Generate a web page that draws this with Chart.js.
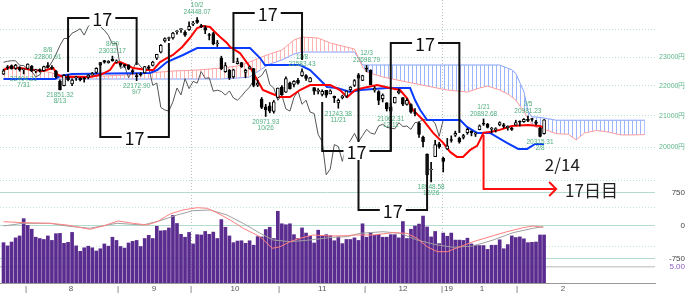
<!DOCTYPE html>
<html>
<head>
<meta charset="utf-8">
<script src="https://cdn.jsdelivr.net/npm/chart.js@4.4.1/dist/chart.umd.min.js"></script>
<style>
  html, body { margin: 0; padding: 0; background: #fff; }
</style>
</head>
<body>
<canvas id="chart" width="688" height="293"></canvas>
<script>
// 日付（営業日）
const dates = ['7/24','7/25','7/26','7/27','7/30','7/31',
  '8/1','8/2','8/3','8/6','8/7','8/8','8/9','8/10','8/13','8/14','8/15','8/16','8/17','8/20','8/21','8/22','8/23','8/24','8/27','8/28','8/29','8/30','8/31',
  '9/3','9/4','9/5','9/6','9/7','9/10','9/11','9/12','9/13','9/14','9/18','9/19','9/20','9/21','9/25','9/26','9/27','9/28',
  '10/1','10/2','10/3','10/4','10/5','10/9','10/10','10/11','10/12','10/15','10/16','10/17','10/18','10/19','10/22','10/23','10/24','10/25','10/26','10/29','10/30','10/31',
  '11/1','11/2','11/5','11/6','11/7','11/8','11/9','11/12','11/13','11/14','11/15','11/16','11/19','11/20','11/21','11/22','11/26','11/27','11/28','11/29','11/30',
  '12/3','12/4','12/5','12/6','12/7','12/10','12/11','12/12','12/13','12/14','12/17','12/18','12/19','12/20','12/21','12/25','12/26','12/27','12/28',
  '1/4','1/7','1/8','1/9','1/10','1/11','1/15','1/16','1/17','1/18','1/21','1/22','1/23','1/24','1/25','1/28','1/29','1/30','1/31',
  '2/1','2/4','2/5','2/6','2/7','2/8','2/12'];

// 四本値
const openP = [22400,22620,22700,22600,22630,22550,
  22600,22680,22510,22560,22520,22700,22620,22500,22160,22000,22290,22060,22270,22250,22250,22290,22380,22460,22720,22870,22800,22920,22830,
  22780,22710,22720,22500,22350,22400,22440,22650,22700,22960,23170,23580,23670,23690,23920,24000,23900,24000,
  24200,24360,24140,24080,23800,23850,23480,22960,22480,22530,22300,22760,22800,22460,22600,22590,22020,21550,21290,21320,21140,21600,
  21950,21780,22100,22040,22180,22340,22350,22130,21930,21800,21700,21840,21720,21640,21420,21590,21640,21860,22010,22370,22180,
  22580,22530,21850,21800,21560,21420,21280,21420,21750,21600,21370,21360,21100,20760,20310,19780,19300,19700,20100,
  19655,19940,20220,20370,20270,20300,20450,20500,20400,20550,20730,20720,20560,20550,20700,20700,20600,20600,20690,
  20800,20800,20880,20900,20800,20600,20420];
const highP = [22570,22700,22720,22740,22660,22580,
  22760,22700,22570,22580,22680,22801,22700,22530,22200,22380,22380,22230,22320,22280,22290,22380,22460,22620,22810,22880,22870,23032,22900,
  22790,22740,22720,22560,22430,22450,22670,22700,22850,23100,23450,23700,23720,23900,23960,24040,23960,24290,
  24310,24448,24200,24140,23860,23900,23600,23030,22800,22560,22570,22960,22810,22570,22680,22600,22190,21600,21370,21430,21500,21920,
  22000,22300,22120,22170,22250,22583,22380,22290,21930,21900,21860,21840,21860,21650,21550,21680,21820,21970,22210,22420,22360,
  22699,22550,21970,21830,21720,21430,21300,21610,21880,21600,21560,21390,21230,20800,20340,19790,19530,20210,20150,
  19690,20270,20350,20500,20310,20400,20600,20510,20460,20700,20893,20750,20620,20610,20800,20750,20670,20620,20850,
  20830,20900,20981,20910,20850,20620,20870];
const lowP = [22380,22560,22570,22560,22500,22404,
  22570,22480,22440,22470,22500,22610,22560,22260,21851,21990,22160,22000,22180,22160,22120,22230,22360,22420,22690,22780,22780,22850,22790,
  22660,22630,22550,22400,22173,22330,22430,22560,22680,22910,23150,23540,23590,23650,23830,23900,23750,23970,
  24150,24230,24080,23850,23620,23440,23380,22550,22460,22210,22260,22750,22630,22270,22570,21960,21970,21230,20972,21090,21080,21580,
  21680,21770,21880,21960,22050,22320,22180,22130,21700,21720,21650,21600,21720,21430,21243,21550,21600,21800,21970,22240,22170,
  22480,22030,21780,21360,21450,21150,21062,21410,21720,21330,21340,21080,20990,20300,20000,19117,18949,19700,19960,
  19241,19920,20150,20330,20120,20250,20400,20350,20330,20540,20680,20600,20440,20470,20670,20600,20530,20520,20690,
  20670,20780,20800,20820,20700,20315,20400];
const closeP = [22510,22614,22586,22712,22544,22553,
  22746,22512,22525,22507,22663,22644,22598,22298,21857,22356,22204,22192,22270,22199,22219,22362,22410,22601,22799,22813,22848,22869,22865,
  22707,22696,22580,22487,22307,22373,22664,22604,22821,23094,23420,23672,23674,23869,23940,24033,23796,24120,
  24245,24270,24110,23975,23783,23469,23506,22590,22694,22271,22549,22841,22658,22532,22614,22010,22091,21268,21184,21149,21457,21920,
  21687,22243,21898,22147,22085,22486,22250,22269,21810,21846,21803,21680,21821,21583,21507,21646,21812,21952,22177,22262,22351,
  22574,22036,21919,21501,21678,21219,21148,21602,21816,21374,21506,21115,21068,20392,20166,19155,19327,20077,20015,
  19561,20038,20204,20427,20163,20359,20555,20443,20402,20666,20719,20622,20593,20574,20773,20649,20664,20556,20773,
  20788,20883,20844,20874,20751,20333,20864];

// 出来高（億株）
const volume = [12.6,11.6,12.8,14.1,14.7,20.1,18.0,16.8,14.3,13.9,13.6,14.7,13.3,15.4,15.5,12.4,12.7,15.8,11.6,9.9,
  11.0,11.5,11.0,10.0,10.7,12.2,11.5,14.3,13.3,11.4,10.9,12.5,13.0,13.3,11.4,13.9,14.9,13.9,17.7,16.3,
  16.4,17.2,21.1,18.6,15.2,14.3,15.8,12.2,15.1,15.0,16.1,15.2,15.9,13.9,19.8,17.4,14.7,12.6,13.1,13.2,
  12.4,13.2,11.8,14.5,14.4,16.7,17.4,13.9,22.4,18.5,18.2,18.5,15.1,13.9,17.2,15.6,14.6,12.5,16.5,14.9,
  15.1,14.8,13.2,14.4,12.3,13.6,13.6,14.1,13.3,18.5,14.3,15.7,14.9,15.2,14.3,14.3,15.1,15.1,14.1,19.2,
  13.9,16.8,17.8,18.4,20.9,17.5,14.4,16.1,12.3,15.6,14.6,15.6,13.4,13.4,13.3,14.0,12.2,11.8,11.7,11.7,
  10.5,11.8,11.8,13.5,10.7,12.0,14.7,14.2,14.4,13.8,12.6,12.7,12.8,15.0,15.0];

// 一目均衡表（図から読んだ頂点: [日の位置, 値]）
const tenkan = [[0,22540],[1.6,22646],[4.1,22610],[7.3,22540],[9.8,22505],[12.3,22610],[13.5,22366],[14.8,22297],[21.4,22297],[23.9,22366],
  [26.4,22540],[27.6,22787],[28.9,22822],[30.6,22716],[32.1,22610],[35.6,22540],[37.1,22540],[38.8,22822],[40.5,22964],[42,23072],
  [44.3,23360],[46.2,23689],[48,24060],[49.5,24133],[51.2,24097],[52.4,23911],[53.7,23726],[55.4,23506],[56.2,23360],[58.6,23143],
  [61.1,22646],[62.9,22193],[64.3,21851],[66.1,21750],[68.6,21615],[71,21615],[73.5,21851],[76,22021],[81,22021],[83.4,21851],
  [85.2,21615],[87.2,21851],[89.1,21919],[92.6,22021],[95.8,21919],[98.3,21851],[100,21582],[101.5,21184],[104,20858],[106.5,20443],
  [109,20129],[110.7,19849],[112.4,19696],[113.9,19696],[115.7,19911],[117.4,20035],[119,20450],[121,20480],[123,20540],[126,20665],
  [130,20697],[133,20665],[134,20600]];
const kijun = [[0,22228],[12.8,22228],[14,22331],[17,22401],[36.3,22436],[38.1,22540],[40.5,22822],[44.5,23072],[48,23324],[61.1,23324],
  [63.6,22964],[64.8,22716],[73.5,22716],[76,22540],[78,22262],[80.2,21953],[82.7,21919],[85.9,21784],[88.4,21851],[95.1,21919],
  [100.8,21919],[102,21515],[103.3,21184],[105,20858],[113.2,20858],[114.9,20633],[117.4,20443],[120.6,20443],[124.8,20129],[127.6,19942],
  [129.8,19942],[131.8,20097],[134,20097]];
const spanA = [[0,22610],[5,22575],[10,22505],[14,22366],[20,22331],[25,22331],[30,22366],[36,22436],[42,22505],[48,22540],
  [54,22610],[58,22681],[61,22822],[64,23000],[66,23107],[69,23251],[72,23616],[74,23726],[78,23689],[81,23506],
  [84,23397],[87,23288],[88,22964],[89,22646],[90,22471],[94,22297],[100,22125],[105,21987],[110,21851],[115,21784],
  [118,21919],[120,21987],[123,21851],[125,21716],[126,21615],[127,21515],[128,21317],[129,21150],[130,20900],[131,20720],
  [132,20620],[134,20560],[137,20420],[140,20400],[142,20220],[144,20443],[147,20520],[150,20470],[153,20380],[156,20380],[159,20390]];
const spanB = [[0,22228],[5,22228],[10,22228],[14,22228],[20,22228],[25,22228],[30,22228],[36,22228],[42,22228],[48,22228],
  [54,22228],[58,22262],[61,22297],[64,22575],[66,22751],[69,22893],[72,23107],[74,23179],[78,23179],[81,23179],
  [84,23179],[87,23179],[88,22964],[89,22716],[90,22716],[94,22716],[100,22716],[105,22716],[110,22716],[115,22716],
  [118,22716],[120,22716],[123,22716],[125,22600],[126,22550],[127,22420],[128,22100],[129,21800],[130,21150],[131,20955],
  [132,20955],[134,20920],[137,20850],[140,20850],[142,20850],[144,20850],[147,20850],[150,20850],[153,20850],[156,20850],[159,20850]];
const chikouShift = 25;

// 下段のオシレーター
const oscRed = [[0,98],[4.8,75],[11.5,61],[15.7,23],[21.4,-75],[24.7,0],[28.4,114],[32.1,61],[35.6,23],[38.1,98],
  [41.3,273],[44.5,364],[48,416],[50.5,402],[52.9,302],[56.2,136],[59.4,-52],[63.6,-243],[66.6,-507],[68.6,-470],
  [71,-357],[73.5,-280],[76.7,-205],[81,-227],[85.2,-220],[86.7,-205],[91.6,-205],[96.6,-152],[100,-166],[102.5,-280],
  [105,-470],[107.5,-584],[110,-584],[113.2,-470],[116.4,-357],[120.6,-243],[124.8,-130],[128.8,-39],[131.3,0],[133.8,-30]];
const oscGray = [[0,0],[4.8,61],[11.5,61],[15.7,0],[21.4,-52],[28.1,61],[34.6,23],[38.8,120],[43,250],[47,348],
  [51.2,364],[55.4,250],[59.4,61],[63.6,-166],[66.8,-318],[71,-357],[76,-318],[81.7,-257],[85.2,-243],[88.4,-166],
  [94.1,-130],[98.3,-166],[102.5,-318],[107.5,-432],[111.5,-484],[116.4,-455],[121.4,-318],[126.3,-152],[131.3,-52],[133.8,-16]];

// 軸の目盛り
const xTickPos = [5.6, 16.7, 28.4, 37.3, 46.5, 57.4, 68.3, 79, 89.6, 99, 108.7, 110.3, 118.6, 127.3, 138.7];
const xTickText = ['|', '8', '|', '9', '|', '10', '|', '11', '|', '12', '|', '19', '1', '|', '2'];
const xGridAt = [46.5, 108.7];
const priceGrid = [19000, 20000, 21000, 22000, 23000, 24000];
const priceLabeled = [20000, 21000, 22000, 23000];
const oscGrid = [750, 430, 0, -470, -750];
const oscLabeled = [750, 0, -750];
const volTicks = [5];

// 高値・安値の注記
const markIdx = [5, 11, 14, 27, 33, 48, 65, 74, 83, 90, 96, 106, 119, 130, 133];
const markKind = ['L','H','L','H','L','H','L','H','L','H','L','L','H','H','L'];
const markText = ['22404.21','22800.91','21851.32','23032.17','22172.90','24448.07','20971.93','22583.43',
  '21243.38','22698.79','21062.31','18948.58','20892.68','20981.23','20315.31'];

// 17日のカッコ
const bracketFrom = [16, 24, 57, 79, 96, 88];
const bracketTo = [33, 41, 74, 96, 113, 105];
const bracketLevel = [24436, 20316, 24626, 19877, 23506, 18136];
const bracketEndFrom = [22471, 22822, 22787, 21448, 19877, 22366];
const bracketEndTo = [22716, 23506, 22893, 21415, 20443, 19753];

// 矢印とメモ
const arrowFrom = 119, arrowTo = 137, arrowTop = 20380, arrowLevel = 18737;
const noteText = ['2/14', '17日目'];
const noteIdx = [134.2, 139.2];
const notePrice = [19449, 18708];

Chart.defaults.font.family = '"Liberation Sans", Arial, sans-serif';

function hatch(color) {
    const c = document.createElement('canvas');
    c.width = 4; c.height = 4;
    const g = c.getContext('2d');
    g.fillStyle = color;
    g.fillRect(0, 0, 1, 4);
    return g.createPattern(c, 'repeat');
}

const pts = arr => arr.map(([x, y]) => ({x, y}));

const overlay = {
    id: 'overlay',
    afterDatasetsDraw(chart) {
        const {ctx, scales: {x, y, yo, yv}} = chart;
        ctx.save();

        // 高値・安値ラベル
        ctx.font = '6.5px "Liberation Sans", sans-serif';
        ctx.fillStyle = '#4fae7f';
        ctx.textAlign = 'center';
        ctx.textBaseline = 'middle';
        markIdx.forEach((i, k) => {
            const px = x.getPixelForValue(i);
            if (markKind[k] === 'H') {
                const py = y.getPixelForValue(highP[i]);
                ctx.fillText(markText[k], px, py - 5);
                ctx.fillText(dates[i], px, py - 12);
            } else {
                const py = y.getPixelForValue(lowP[i]);
                ctx.fillText(markText[k], px, py + 5.5);
                ctx.fillText(dates[i], px, py + 11.5);
            }
        });

        // カッコの線
        ctx.strokeStyle = '#111';
        ctx.lineWidth = 2;
        bracketFrom.forEach((f, k) => {
            const x1 = x.getPixelForValue(f), x2 = x.getPixelForValue(bracketTo[k]);
            const yl = y.getPixelForValue(bracketLevel[k]);
            ctx.beginPath();
            ctx.moveTo(x1, y.getPixelForValue(bracketEndFrom[k]));
            ctx.lineTo(x1, yl);
            ctx.lineTo(x2, yl);
            ctx.lineTo(x2, y.getPixelForValue(bracketEndTo[k]));
            ctx.stroke();
        });

        // カッコの数字（白抜き）
        ctx.font = '18px "Noto Sans CJK JP", "Liberation Sans", sans-serif';
        bracketFrom.forEach((f, k) => {
            const txt = String(bracketTo[k] - f);
            const cx = (x.getPixelForValue(f) + x.getPixelForValue(bracketTo[k])) / 2;
            const cy = y.getPixelForValue(bracketLevel[k]);
            const w = ctx.measureText(txt).width;
            ctx.fillStyle = '#fff';
            ctx.fillRect(cx - w / 2 - 3, cy - 9, w + 6, 18);
            ctx.fillStyle = '#111';
            ctx.fillText(txt, cx, cy + 1);
        });

        // 赤い矢印
        const ax = x.getPixelForValue(arrowFrom);
        const ay = y.getPixelForValue(arrowLevel);
        const tip = x.getPixelForValue(arrowTo);
        ctx.strokeStyle = '#ff1010';
        ctx.lineWidth = 2;
        ctx.beginPath();
        ctx.moveTo(ax, y.getPixelForValue(arrowTop));
        ctx.lineTo(ax, ay);
        ctx.lineTo(tip, ay);
        ctx.moveTo(tip - 7, ay - 7);
        ctx.lineTo(tip, ay);
        ctx.lineTo(tip - 7, ay + 7);
        ctx.stroke();

        // メモ
        ctx.font = '17px "Noto Sans CJK JP", sans-serif';
        ctx.fillStyle = '#222';
        ctx.textAlign = 'left';
        noteText.forEach((t, k) => {
            ctx.fillText(t, x.getPixelForValue(noteIdx[k]), y.getPixelForValue(notePrice[k]));
        });

        // 下段の目盛り（右寄せ）
        ctx.font = '8px "Liberation Sans", sans-serif';
        ctx.textAlign = 'right';
        ctx.fillStyle = '#444';
        oscLabeled.forEach(v => ctx.fillText(String(v), chart.width - 3, yo.getPixelForValue(v)));
        ctx.fillStyle = '#8a5cc8';
        volTicks.forEach(v => ctx.fillText(v.toFixed(2), chart.width - 3, yv.getPixelForValue(v)));

        ctx.restore();
    }
};

const isUp = closeP.map((c, i) => c >= openP[i]);

new Chart(document.getElementById('chart'), {
    type: 'bar',
    data: {
        datasets: [
            {
                type: 'line', label: '先行スパン1', data: pts(spanA), yAxisID: 'y',
                borderColor: '#ff9c9c', borderWidth: 1, pointRadius: 0, tension: 0,
                fill: {target: '+1', above: hatch('#ffb4b4'), below: hatch('#9db5ff')},
                order: 10
            },
            {
                type: 'line', label: '先行スパン2', data: pts(spanB), yAxisID: 'y',
                borderColor: '#7f9fff', borderWidth: 1, pointRadius: 0, tension: 0, fill: false,
                order: 11
            },
            {
                type: 'line', label: '遅行スパン',
                data: closeP.map((c, i) => ({x: i - chikouShift, y: c})).filter(p => p.x >= 0),
                yAxisID: 'y', borderColor: '#555', borderWidth: 1, pointRadius: 0, tension: 0, fill: false,
                order: 9
            },
            {
                type: 'line', label: '基準線', data: pts(kijun), yAxisID: 'y',
                borderColor: '#0a3cff', borderWidth: 2, pointRadius: 0, tension: 0, fill: false,
                order: 8
            },
            {
                type: 'line', label: '転換線', data: pts(tenkan), yAxisID: 'y',
                borderColor: '#ff0000', borderWidth: 2, pointRadius: 0, tension: 0, fill: false,
                order: 7
            },
            {
                label: 'ヒゲ', data: lowP.map((l, i) => ({x: i, y: [l, highP[i]]})), yAxisID: 'y',
                backgroundColor: '#000', barThickness: 1, grouped: false,
                order: 3
            },
            {
                label: '実体', data: openP.map((o, i) => ({x: i, y: [o, closeP[i]]})), yAxisID: 'y',
                backgroundColor: isUp.map(u => u ? '#fff' : '#000'),
                borderColor: '#000', borderWidth: 1, borderSkipped: false,
                barThickness: 3, minBarLength: 1, grouped: false,
                order: 2
            },
            {
                label: '出来高', data: volume.map((v, i) => ({x: i, y: v})), yAxisID: 'yv',
                backgroundColor: '#5b2c8f', barThickness: 3, grouped: false,
                order: 6
            },
            {
                type: 'line', label: 'osc1', data: pts(oscRed), yAxisID: 'yo',
                borderColor: '#ff8080', borderWidth: 1, pointRadius: 0, tension: 0, fill: false,
                order: 4
            },
            {
                type: 'line', label: 'osc2', data: pts(oscGray), yAxisID: 'yo',
                borderColor: '#a0a0a0', borderWidth: 1, pointRadius: 0, tension: 0, fill: false,
                order: 5
            }
        ]
    },
    options: {
        responsive: false,
        animation: false,
        devicePixelRatio: 1,
        layout: {padding: 0},
        plugins: {legend: {display: false}, tooltip: {enabled: false}},
        scales: {
            x: {
                type: 'linear', position: 'bottom', min: -0.87, max: 161.5, offset: false,
                afterBuildTicks: s => { s.ticks = xTickPos.map(v => ({value: v})); },
                afterFit: s => { s.height = 10; s.paddingLeft = 0; s.paddingRight = 0; },
                ticks: {autoSkip: false, maxRotation: 0, padding: 1, font: {size: 8}, color: '#555',
                        callback: (v, i) => xTickText[i]},
                grid: {drawTicks: false, offset: false,
                       color: c => (c.tick && xGridAt.includes(c.tick.value)) ? '#bdbdbd' : 'rgba(0,0,0,0)'},
                border: {display: true, color: '#999', dash: [1, 2]}
            },
            y: {
                type: 'logarithmic', position: 'right', min: 16194, max: 25129, weight: 2,
                afterBuildTicks: s => { s.ticks = priceGrid.map(v => ({value: v})); },
                afterFit: s => { s.width = 33; s.paddingTop = 0; s.paddingBottom = 0; },
                ticks: {padding: 4, font: {size: 7}, color: '#5db68a',
                        callback: v => priceLabeled.includes(v) ? v + '円' : ''},
                grid: {drawTicks: false, color: '#b9e0d2'},
                border: {display: false, dash: [1, 2]}
            },
            yo: {
                type: 'linear', position: 'right', min: -1296, max: 5137, weight: 0,
                afterBuildTicks: s => { s.ticks = oscGrid.map(v => ({value: v})); },
                afterFit: s => { s.width = 0; s.paddingTop = 0; s.paddingBottom = 0; },
                ticks: {display: false},
                grid: {drawTicks: false,
                       color: c => (c.tick && oscLabeled.includes(c.tick.value)) ? '#b3dccd' : '#c8e6dc'},
                border: {display: false,
                         dash: c => (c.tick && oscLabeled.includes(c.tick.value)) ? [] : [1, 2]}
            },
            yv: {
                type: 'linear', position: 'right', min: 0, max: 88.4, weight: 1,
                afterBuildTicks: s => { s.ticks = volTicks.map(v => ({value: v})); },
                afterFit: s => { s.width = 0; s.paddingTop = 0; s.paddingBottom = 0; },
                ticks: {display: false},
                grid: {drawTicks: false, color: '#cfcfcf', lineWidth: 1.5},
                border: {display: false}
            }
        }
    },
    plugins: [overlay]
});
</script>
</body>
</html>
